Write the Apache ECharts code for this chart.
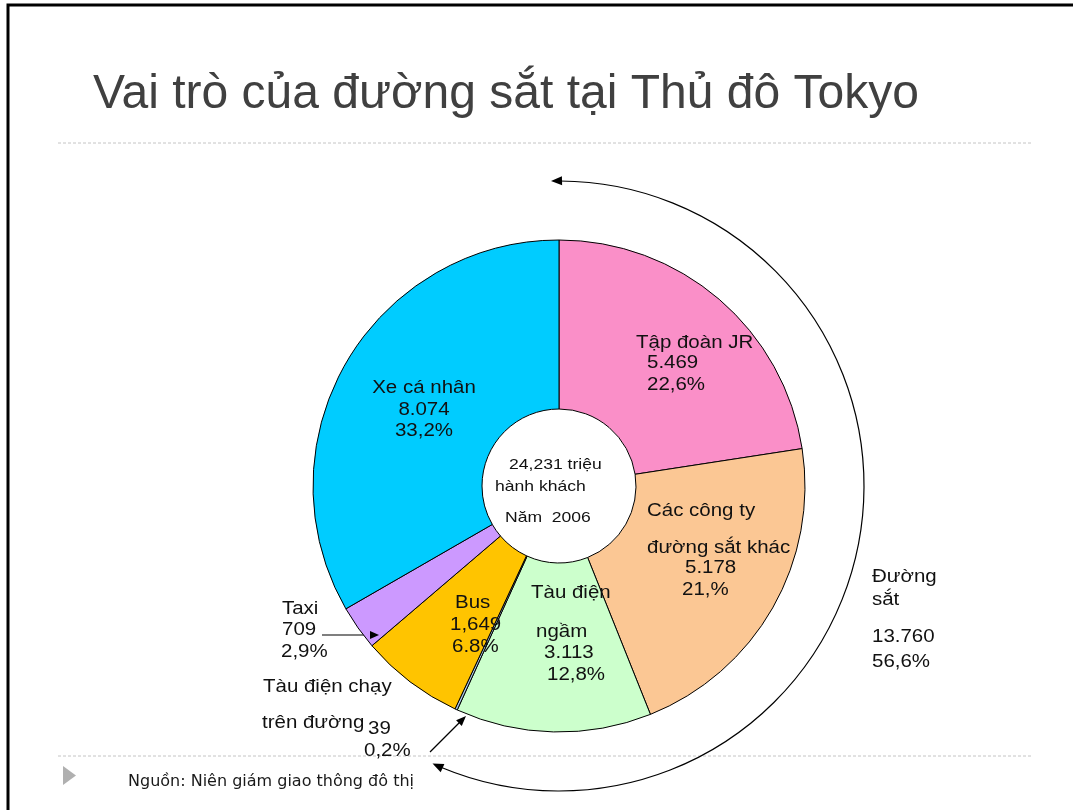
<!DOCTYPE html>
<html>
<head>
<meta charset="utf-8">
<script src="https://cdn.jsdelivr.net/npm/echarts@6/dist/echarts.min.js"></script>
<style>
html,body{margin:0;padding:0;background:#fff;}
#chart{width:1073px;height:810px;}
</style>
</head>
<body>
<div id="chart"></div>
<script>
// ---- data ----
const categories = ['Tập đoàn JR', 'Các công ty đường sắt khác', 'Tàu điện ngầm', 'Tàu điện chạy trên đường', 'Bus', 'Taxi', 'Xe cá nhân'];
const values = [5469, 5178, 3113, 39, 1649, 709, 8074];
const valueLabels = ['5.469', '5.178', '3.113', '39', '1,649', '709', '8.074'];
const percentLabels = ['22,6%', '21,%', '12,8%', '0,2%', '6.8%', '2,9%', '33,2%'];
const nameLines = [['Tập đoàn JR'], ['Các công ty', 'đường sắt khác'], ['Tàu điện', 'ngầm'], ['Tàu điện chạy', 'trên đường'], ['Bus'], ['Taxi'], ['Xe cá nhân']];
const totalLines = ['24,231 triệu', 'hành khách', 'Năm  2006'];
const railLines = ['Đường', 'sắt', '13.760', '56,6%'];
const titleText = 'Vai trò của đường sắt tại Thủ đô Tokyo';
const sourceText = 'Nguồn: Niên giám giao thông đô thị';

// ---- layout / style ----
const colors = ['#FA8FC8', '#FBC794', '#CCFFCC', '#A9C8E8', '#FFC400', '#CC99FF', '#00CCFF'];
const CX = 559, CY = 486, R0 = 77, R1 = 246;
// per slice: positions of each text line [x, y, align]
const labelPos = [
  [[636, 343, 'left'], [647, 363, 'left'], [647, 385, 'left']],
  [[647, 511, 'left'], [647, 548, 'left'], [685, 568, 'left'], [682, 590, 'left']],
  [[531, 593, 'left'], [536, 632, 'left'], [544, 653, 'left'], [547, 675, 'left']],
  [[263, 687, 'left'], [262, 723, 'left'], [368, 729, 'left'], [364, 751, 'left']],
  [[455, 603, 'left'], [450, 625, 'left'], [452, 647, 'left']],
  [[282, 609, 'left'], [282, 630, 'left'], [281, 652, 'left']],
  [[424, 388, 'center'], [424, 410, 'center'], [424, 431, 'center']]
];
const totalPos = [[509, 465], [495, 487], [505, 518]];
const railPos = [[872, 577], [872, 600], [872, 637], [872, 662]];

const FONT = '"Liberation Sans", Arial, sans-serif';
const SX = 1.17;

function txt(text, x, y, size, align, color, sx) {
  return {
    type: 'text', x: x, y: y, scaleX: sx || SX, silent: true, z: 10,
    style: { text: text, font: size + 'px ' + FONT, fill: color || '#111', align: align || 'left', verticalAlign: 'middle' }
  };
}

const graphics = [];
// frame
graphics.push({ type: 'rect', shape: { x: 8, y: 5, width: 1200, height: 1000 }, style: { fill: null, stroke: '#000', lineWidth: 3 }, silent: true });
// title
graphics.push({ type: 'text', x: 93, y: 95, silent: true, style: { text: titleText, font: '48px ' + FONT, fill: '#404040', align: 'left', verticalAlign: 'middle' } });
// separators
[143, 756].forEach(function (y) {
  graphics.push({ type: 'line', shape: { x1: 58, y1: y, x2: 1033, y2: y }, style: { stroke: '#c4c4c4', lineWidth: 1, lineDash: [3, 2] }, silent: true });
});
// bullet + source
graphics.push({ type: 'polygon', shape: { points: [[63, 766], [63, 785], [76, 775.5]] }, style: { fill: '#b0b0b0' }, silent: true });
graphics.push({ type: 'text', x: 128, y: 782, silent: true, style: { text: sourceText, font: '16px "DejaVu Sans", sans-serif', fill: '#1a1a1a', align: 'left', verticalAlign: 'middle' } });

// slice labels
categories.forEach(function (c, i) {
  const lines = nameLines[i].concat([valueLabels[i], percentLabels[i]]);
  lines.forEach(function (t, j) {
    const p = labelPos[i][j];
    graphics.push(txt(t, p[0], p[1], 17.5, p[2]));
  });
});
totalLines.forEach(function (t, j) { graphics.push(txt(t, totalPos[j][0], totalPos[j][1], 15, 'left')); });
railLines.forEach(function (t, j) { graphics.push(txt(t, railPos[j][0], railPos[j][1], 17.5, 'left')); });

// arrows
function head(tx, ty, dx, dy, len, half) {
  const l = Math.hypot(dx, dy); dx /= l; dy /= l;
  const bx = tx - dx * len, by = ty - dy * len;
  return { type: 'polygon', silent: true, z: 11, shape: { points: [[tx, ty], [bx - dy * half, by + dx * half], [bx + dy * half, by - dx * half]] }, style: { fill: '#000' } };
}
// taxi arrow
graphics.push({ type: 'line', silent: true, shape: { x1: 322, y1: 635, x2: 372, y2: 635 }, style: { stroke: '#000', lineWidth: 1.2 } });
graphics.push(head(379, 635, 1, 0, 9, 4));
// tram arrow
graphics.push({ type: 'line', silent: true, shape: { x1: 430, y1: 752, x2: 461, y2: 721 }, style: { stroke: '#000', lineWidth: 1.2 } });
graphics.push(head(466, 716, 1, -1, 10, 4));
// big arc around railway share
const AR = 305, a0 = -91.5 * Math.PI / 180, a1 = 114.5 * Math.PI / 180;
graphics.push({ type: 'arc', silent: true, shape: { cx: CX, cy: CY, r: AR, startAngle: a0 + 0.03, endAngle: a1 - 0.03, clockwise: true }, style: { stroke: '#000', lineWidth: 1.2, fill: null } });
(function () {
  const tx0 = CX + AR * Math.cos(a0), ty0 = CY + AR * Math.sin(a0);
  graphics.push(head(tx0, ty0, Math.sin(a0), -Math.cos(a0), 11, 4.5));
  const tx1 = CX + AR * Math.cos(a1), ty1 = CY + AR * Math.sin(a1);
  graphics.push(head(tx1, ty1, -Math.sin(a1), Math.cos(a1), 11, 4.5));
})();

const chart = echarts.init(document.getElementById('chart'), null, { renderer: 'canvas' });
chart.setOption({
  backgroundColor: '#fff',
  animation: false,
  series: [{
    type: 'pie',
    center: [CX, CY],
    radius: [R0, R1],
    startAngle: 90,
    clockwise: true,
    avoidLabelOverlap: false,
    silent: true,
    label: { show: false },
    labelLine: { show: false },
    itemStyle: { borderColor: '#000', borderWidth: 1 },
    data: categories.map(function (c, i) { return { name: c, value: values[i], itemStyle: { color: colors[i] } }; })
  }],
  graphic: graphics
});
</script>
</body>
</html>
